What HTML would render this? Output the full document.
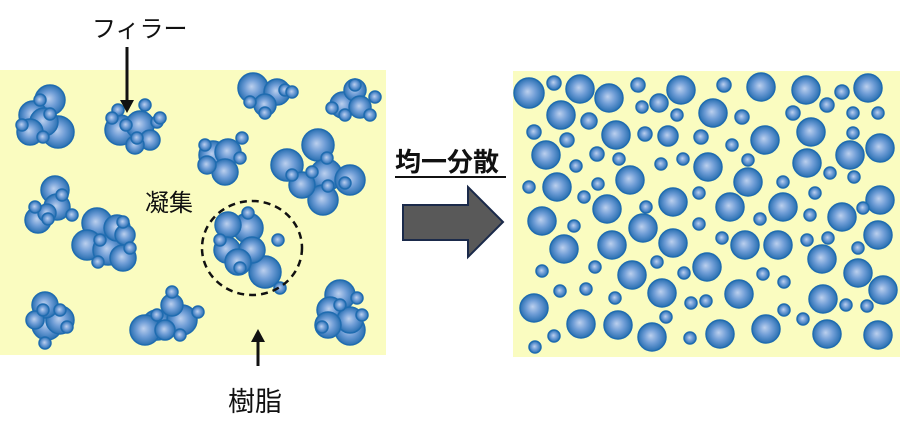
<!DOCTYPE html>
<html><head><meta charset="utf-8">
<style>
html,body{margin:0;padding:0;background:#fff;}
svg{display:block;}
text{font-family:"Liberation Sans","Noto Sans CJK JP",sans-serif;}
</style></head>
<body>
<svg id="s" width="900" height="434" viewBox="0 0 900 434" xmlns="http://www.w3.org/2000/svg">
<defs>
<radialGradient id="g" cx="50%" cy="50%" r="50%" fx="45%" fy="45%">
<stop offset="0" stop-color="#bcd0ee"/>
<stop offset="0.5" stop-color="#6f9dd6"/>
<stop offset="1" stop-color="#2a70b2"/>
</radialGradient>
</defs>
<rect x="0" y="70" width="386" height="285" fill="#fafcc0"/>
<rect x="513" y="71" width="387" height="286" fill="#fafcc0"/>
<g id="balls"></g>
<ellipse cx="252" cy="248" rx="50" ry="47" fill="none" stroke="#111" stroke-width="2.5" stroke-dasharray="7,5"/>
<text x="92" y="37" font-size="24" fill="#111">フィラー</text>
<line x1="127" y1="47" x2="127" y2="102" stroke="#111" stroke-width="3"/>
<polygon points="120,100 134,100 127,113" fill="#111"/>
<text x="145" y="211" font-size="24" fill="#111">凝集</text>
<text x="228" y="411" font-size="27" fill="#111">樹脂</text>
<line x1="258" y1="340" x2="258" y2="366" stroke="#111" stroke-width="3"/>
<polygon points="251,342 265,342 258,329" fill="#111"/>
<text x="395" y="171" font-size="26" font-weight="bold" fill="#111">均一分散</text>
<line x1="395" y1="177" x2="506" y2="177" stroke="#111" stroke-width="2"/>
<polygon points="403,205 468,205 468,187 503,222 468,257 468,240 403,240" fill="#595959" stroke="#1b2a4a" stroke-width="2"/>
</svg>
<script>
var A=[
[50,100,12],[33,115,11],[58,132,13],[30,132,10],[44,122,11],[40,100,5],[50,114,5],[22,125,5],[43,137,5],
[120,130,12],[140,125,11],[150,140,8],[135,145,7],[118,110,5],[145,105,5],[112,118,5],[157,122,5],[126,125,5],[137,138,5],[160,118,5],
[253,88,12],[277,92,10],[265,105,9],[285,90,6],[250,102,5],[292,92,5],[265,113,5],
[355,90,9],[343,105,10],[360,107,9],[332,108,5],[375,97,5],[370,115,5],[345,115,5],[355,85,5],
[213,155,11],[228,152,10],[225,172,10],[207,165,7],[242,138,5],[240,158,5],[205,145,5],
[287,165,13],[318,145,13],[326,175,13],[302,185,10],[323,200,12],[350,180,12],[312,172,5],[327,158,5],[328,186,5],[292,175,5],[345,183,5],
[55,190,11],[57,207,10],[38,220,10],[47,213,7],[35,207,5],[48,219,5],[62,195,5],[72,215,5],
[97,223,12],[117,228,10],[87,245,12],[108,250,12],[123,258,10],[125,235,8],[123,222,6],[100,240,5],[130,248,5],[98,262,5],
[228,225,10],[248,228,12],[227,250,10],[252,250,10],[238,262,10],[265,272,13],[220,240,5],[278,240,6],[248,213,6],[280,288,5],[240,268,5],
[45,305,10],[60,320,11],[47,325,12],[35,320,7],[60,310,5],[43,310,5],[45,343,5],[67,327,5],
[172,305,9],[157,325,12],[182,320,12],[145,330,12],[165,330,8],[172,292,5],[198,312,5],[180,335,5],[157,315,5],
[340,295,12],[330,310,10],[350,320,10],[328,325,10],[350,330,12],[362,315,5],[340,305,5],[322,327,5],[357,298,5]
];
var B=[
[529,93,15],[554,83,7],[580,89,14],[609,98,14],[638,85,7],[659,103,9],[681,90,14],[642,107,6],[724,85,7],[761,87,14],[806,90,14],[842,92,7],[868,88,14],
[561,115,14],[589,121,8],[677,115,6],[713,113,14],[742,117,7],[793,113,7],[827,105,7],[853,113,6],[878,113,6],
[534,132,7],[567,140,7],[616,135,14],[645,134,7],[668,136,10],[701,137,7],[765,140,14],[811,132,14],[853,133,6],[880,148,14],
[546,155,14],[597,154,7],[619,159,6],[576,166,6],[661,164,6],[683,159,6],[708,167,14],[732,145,6],[748,160,6],[807,163,14],[850,155,14],[830,173,6],[854,177,6],
[529,187,6],[557,187,14],[598,184,6],[630,180,14],[584,197,6],[748,182,14],[783,182,6],[699,193,6],[815,193,6],[880,200,14],
[542,221,14],[574,226,6],[607,209,14],[646,207,6],[673,202,14],[643,228,14],[699,224,6],[730,207,14],[760,219,6],[783,207,14],[810,215,6],[842,217,14],[863,208,6],[878,235,14],
[564,249,14],[612,245,14],[673,243,14],[722,238,6],[745,245,14],[778,245,14],[807,240,6],[828,238,6],[858,248,6],[822,259,14],
[542,271,6],[595,267,6],[657,262,6],[632,275,14],[684,273,6],[707,267,14],[763,274,6],[784,282,6],[858,273,14],[883,290,14],
[560,291,6],[586,289,6],[615,298,6],[662,293,14],[739,294,14],[823,299,14],[534,308,14],[691,303,6],[706,301,6],[784,310,6],[846,305,6],[867,306,6],[666,317,6],
[581,324,14],[618,325,14],[652,337,14],[554,336,6],[535,347,6],[690,338,6],[720,334,14],[766,329,14],[803,319,6],[827,334,14],[878,335,14]
];
var g=document.getElementById('balls'),h='';
function c(x,y,r){h+='<circle cx="'+x+'" cy="'+y+'" r="'+r+'" fill="url(#g)" stroke="#1f6cb0" stroke-width="1.5"/>';}
A.slice().sort(function(a,b){return b[2]-a[2];}).forEach(function(p){c(p[0],p[1],p[2]>=7?Math.round(p[2]*1.25):6);});
B.forEach(function(p){c(p[0],p[1],p[2]);});
g.innerHTML=h;
</script>
</body></html>
